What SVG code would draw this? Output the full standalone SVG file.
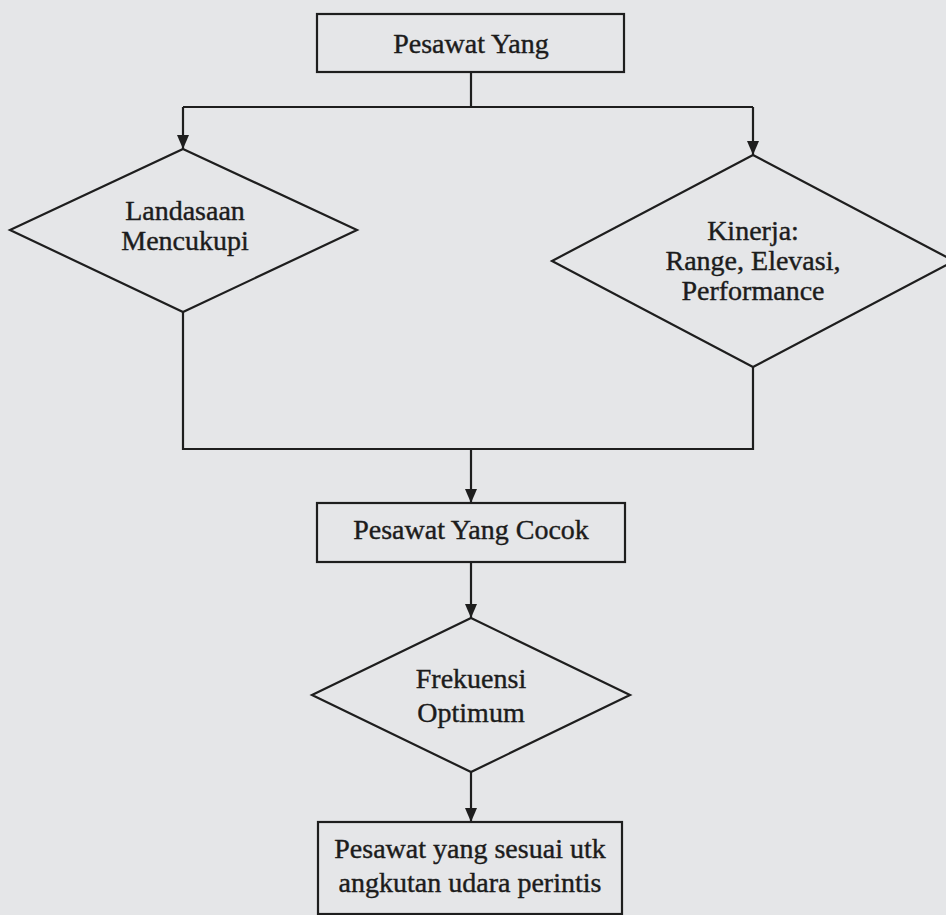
<svg xmlns="http://www.w3.org/2000/svg" width="946" height="915" viewBox="0 0 946 915">
<defs>
<marker id="arr" markerWidth="14" markerHeight="12" refX="14" refY="6" orient="auto" markerUnits="userSpaceOnUse" viewBox="0 0 14 12">
<path d="M0,0 L14,6 L0,12 Z" fill="#1e1e1e"/>
</marker>
<style>
.shape{fill:none;stroke:#1e1e1e;stroke-width:2.2;}
.line{fill:none;stroke:#1e1e1e;stroke-width:2.2;}
.lbl{font-family:"Liberation Serif","Times New Roman",serif;font-size:28px;fill:#1c1c1c;stroke:#1c1c1c;stroke-width:0.4;text-anchor:middle;}
</style>
</defs>
<rect x="0" y="0" width="946" height="915" fill="#e5e6e8"/>
<g id="connectors">
<path class="line" d="M471,72 V107"/>
<path class="line" d="M183,107 H753"/>
<path class="line" d="M183,107 V149" marker-end="url(#arr)"/>
<path class="line" d="M753,107 V155" marker-end="url(#arr)"/>
<path class="line" d="M183,312 V449 H753 V367"/>
<path class="line" d="M471,449 V503" marker-end="url(#arr)"/>
<path class="line" d="M471,562 V618" marker-end="url(#arr)"/>
<path class="line" d="M471,772 V822" marker-end="url(#arr)"/>
</g>
<g id="n1">
<rect class="shape" x="317" y="14" width="307" height="58"/>
<text class="lbl" x="471" y="53">Pesawat Yang</text>
</g>
<g id="n2">
<polygon class="shape" points="183,149 357,230 183,312 10,230"/>
<text class="lbl" x="185" y="220">Landasaan</text>
<text class="lbl" x="185" y="250">Mencukupi</text>
</g>
<g id="n3">
<polygon class="shape" points="753,155 954,261 753,367 552,261"/>
<text class="lbl" x="753" y="240">Kinerja:</text>
<text class="lbl" x="753" y="270">Range, Elevasi,</text>
<text class="lbl" x="753" y="300">Performance</text>
</g>
<g id="n4">
<rect class="shape" x="317" y="503" width="308" height="59"/>
<text class="lbl" x="471" y="539">Pesawat Yang Cocok</text>
</g>
<g id="n5">
<polygon class="shape" points="471,618 630,695 471,772 312,695"/>
<text class="lbl" x="471" y="688">Frekuensi</text>
<text class="lbl" x="471" y="722">Optimum</text>
</g>
<g id="n6">
<rect class="shape" x="318" y="822" width="304" height="92"/>
<text class="lbl" x="470" y="858">Pesawat yang sesuai utk</text>
<text class="lbl" x="470" y="892">angkutan udara perintis</text>
</g>
</svg>
